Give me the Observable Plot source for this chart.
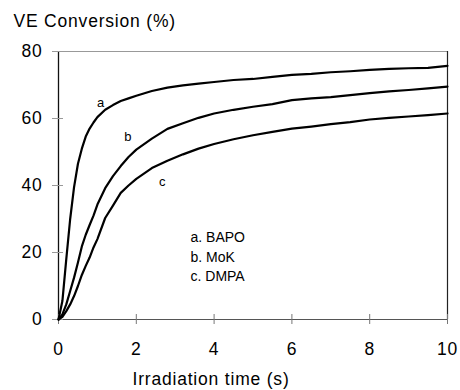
<!DOCTYPE html>
<html>
<head>
<meta charset="utf-8">
<script src="https://cdn.jsdelivr.net/npm/d3@7"></script>
<script src="https://cdn.jsdelivr.net/npm/@observablehq/plot@0.6"></script>
<style>
  html, body { margin: 0; padding: 0; background: #fff; }
  .chart text { letter-spacing: 0.8px; }
</style>
</head>
<body>
<div id="chart"></div>
<script>
const xTicks = [0, 2, 4, 6, 8, 10];
const yTicks = [0, 20, 40, 60, 80];

const time = [0, 0.1, 0.2, 0.3, 0.4, 0.5, 0.6, 0.7, 0.8, 0.9, 1.0, 1.2, 1.4, 1.6, 1.8, 2.0,
  2.4, 2.8, 3.2, 3.6, 4.0, 4.5, 5.0, 5.5, 6.0, 6.5, 7.0, 7.5, 8.0, 8.5, 9.0, 9.5, 10];
const bapo = [0, 5.5, 18, 30, 39.5, 46.5, 51, 54.6, 57, 58.8, 60.4, 62.6, 64, 65.2, 66, 66.8,
  68.2, 69.2, 69.9, 70.4, 70.9, 71.5, 71.8, 72.4, 73, 73.3, 73.8, 74.1, 74.5, 74.8, 75, 75.1, 75.7];
const mok = [0, 1.5, 4.5, 8.5, 12.5, 17, 21.8, 25.3, 28.2, 31, 34.3, 39.2, 42.8, 45.8, 48.5, 50.7,
  54, 56.9, 58.6, 60.2, 61.5, 62.6, 63.5, 64.3, 65.5, 66, 66.4, 67, 67.6, 68.1, 68.5, 69, 69.5];
const dmpa = [0, 0.8, 2.5, 4.5, 7, 10, 13.3, 16, 18.5, 21.5, 24, 30.3, 34, 37.8, 40, 42,
  45.2, 47.4, 49.3, 51, 52.4, 53.8, 55, 56, 57, 57.6, 58.3, 58.9, 59.7, 60.2, 60.6, 61, 61.5];

const seriesNames = ["a", "b", "c"];
const seriesValues = [bapo, mok, dmpa];

const curveLabels = ["a", "b", "c"];
const curveLabelX = [1.08, 1.78, 2.67];
const curveLabelY = [64.8, 54.4, 41];

const legendLines = ["a. BAPO", "b. MoK", "c. DMPA"];
const yTitle = "VE Conversion (%)";
const xTitle = "Irradiation time (s)";

const data = seriesNames.flatMap((s, i) => time.map((t, j) => ({series: s, t, v: seriesValues[i][j]})));
const labels = curveLabels.map((l, i) => ({l, x: curveLabelX[i], y: curveLabelY[i]}));

const W = 460, H = 390;
const mL = 58, mR = 13, mT = 51, mB = 71;
const fw = W - mL - mR, fh = H - mT - mB;

const plot = Plot.plot({
  width: W, height: H,
  marginLeft: mL, marginRight: mR, marginTop: mT, marginBottom: mB,
  className: "chart",
  style: {fontFamily: "'Liberation Sans', Arial, sans-serif", background: "#fff", color: "#000"},
  x: {domain: [0, 10]},
  y: {domain: [0, 80]},
  marks: [
    Plot.ruleY([80], {stroke: "#999", strokeWidth: 1}),
    Plot.ruleX([10], {stroke: "#222", strokeWidth: 1.2}),
    Plot.ruleY([0], {stroke: "#555", strokeWidth: 1.2}),
    Plot.ruleX([0], {stroke: "#111", strokeWidth: 1.3}),
    Plot.tickX(xTicks, {x: d => d, insetTop: fh - 5, insetBottom: -5, stroke: "#777", strokeWidth: 1}),
    Plot.tickY(yTicks, {y: d => d, insetLeft: -6, insetRight: fw - 5, stroke: "#999", strokeWidth: 1}),
    Plot.axisX({ticks: xTicks, tickSize: 0, tickPadding: 23, fontSize: 17.5, label: null}),
    Plot.axisY({ticks: yTicks, tickSize: 0, tickPadding: 16, fontSize: 17.5, label: null}),
    Plot.line(data, {x: "t", y: "v", z: "series", stroke: "#000", strokeWidth: 2.2, curve: "linear"}),
    Plot.text(labels, {x: "x", y: "y", text: "l", fontSize: 13}),
    Plot.text([legendLines.join("\n")], {frameAnchor: "top-left", dx: 132, dy: 204, textAnchor: "start", lineAnchor: "middle", lineHeight: 1.38, fontSize: 14}),
    Plot.text([yTitle], {frameAnchor: "top-left", dx: -45, dy: -30, textAnchor: "start", lineAnchor: "middle", fontSize: 17.5}),
    Plot.text([xTitle], {frameAnchor: "bottom-left", dx: 74, dy: 60, textAnchor: "start", lineAnchor: "middle", fontSize: 17.5})
  ]
});

const noSpacing = new Set([...curveLabels, ...legendLines]);
d3.select(plot).selectAll("text").each(function() {
  const t = this.textContent;
  if (noSpacing.has(t) || legendLines.some(l => t.includes(l))) this.style.letterSpacing = "0px";
});

document.getElementById("chart").appendChild(plot);
</script>
</body>
</html>
